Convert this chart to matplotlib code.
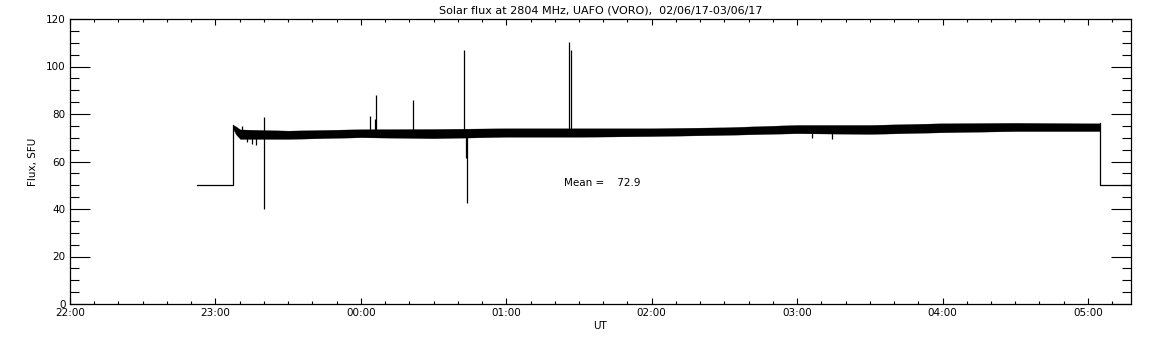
import numpy as np
import matplotlib
matplotlib.use("Agg")
import matplotlib.pyplot as plt

# time axis in hours after 22:00 UT (02/06/17)
HOUR_LABELS = ["22:00", "23:00", "00:00", "01:00", "02:00", "03:00", "04:00", "05:00"]

# flat "no data" level before/after the observation
pre_t = [0.87, 1.12]
pre_flux = [50.0, 50.0]
post_t = [7.085, 7.30]
post_flux = [50.0, 50.0]

# envelope of the noisy flux band (upper / lower edges, SFU)
band_t = [1.12, 1.14, 1.17, 1.50, 2.00, 2.50, 3.00, 3.50, 4.00, 4.50, 5.00,
          5.50, 6.00, 6.50, 7.00, 7.085]
band_hi = [75.4, 74.8, 73.5, 73.0, 73.6, 73.7, 74.0, 74.0, 74.0, 74.4, 75.4,
           75.4, 76.1, 76.3, 76.1, 76.1]
band_lo = [74.0, 71.5, 69.5, 69.5, 70.2, 69.8, 70.4, 70.4, 70.7, 71.2, 71.9,
           71.6, 72.3, 72.8, 72.8, 72.8]

# isolated spikes: time, top, bottom
spike_t = [1.18, 1.22, 1.25, 1.28, 1.335, 2.062, 2.095, 2.105, 2.36, 2.71,
           2.725, 2.727, 3.433, 3.443, 5.10, 5.24]
spike_top = [75.0, 72.0, 72.0, 72.0, 78.9, 79.0, 78.0, 88.1, 85.9, 107.0,
             72.0, 72.0, 110.5, 107.0, 72.0, 72.0]
spike_bot = [71.0, 68.3, 67.2, 67.0, 39.9, 72.0, 72.0, 72.0, 72.0, 72.0,
             61.5, 42.4, 72.0, 72.0, 70.0, 69.4]

mean_flux = 72.9

fig = plt.figure(figsize=(11.52, 3.45), dpi=100)
ax = fig.add_axes([70 / 1152, 41 / 345, 1061 / 1152, 285 / 345])

lw = 0.9
ax.plot(pre_t + [band_t[0]], pre_flux + [band_hi[0]], color="black", lw=lw)
ax.plot([band_t[-1]] + post_t, [band_hi[-1]] + post_flux, color="black", lw=lw)
ax.fill_between(band_t, band_lo, band_hi, color="black", lw=0.2, edgecolor="black")
ax.vlines(spike_t, spike_bot, spike_top, color="black", lw=lw)

ax.text(3.396, 50.9, "Mean =    %.1f" % mean_flux, fontsize=7.5, va="center", ha="left")

ax.set_xlim(0, 7.296)
ax.set_ylim(0, 120)
ax.set_xticks(np.arange(len(HOUR_LABELS)))
ax.set_xticklabels(HOUR_LABELS)
ax.set_xticks(np.arange(0, 7.3, 1 / 6), minor=True)
ax.set_yticks(np.arange(0, 121, 20))
ax.set_yticks(np.arange(0, 121, 5), minor=True)

ax.tick_params(axis="x", which="major", direction="in", length=4, width=0.8,
               top=True, labelsize=7.5, pad=3)
ax.tick_params(axis="x", which="minor", direction="in", length=2.2, width=0.8, top=True)
ax.tick_params(axis="y", which="major", direction="in", length=14.4, width=0.8,
               right=True, labelsize=7.5, pad=3)
ax.tick_params(axis="y", which="minor", direction="in", length=6.5, width=0.8, right=True)
for s in ax.spines.values():
    s.set_linewidth(0.9)

ax.set_xlabel("UT", fontsize=7.5, labelpad=2)
ax.set_ylabel("Flux, SFU", fontsize=7.5, labelpad=6)
ax.set_title("Solar flux at 2804 MHz, UAFO (VORO),  02/06/17-03/06/17", fontsize=8, pad=4)

fig.savefig("out.png", dpi=100)
